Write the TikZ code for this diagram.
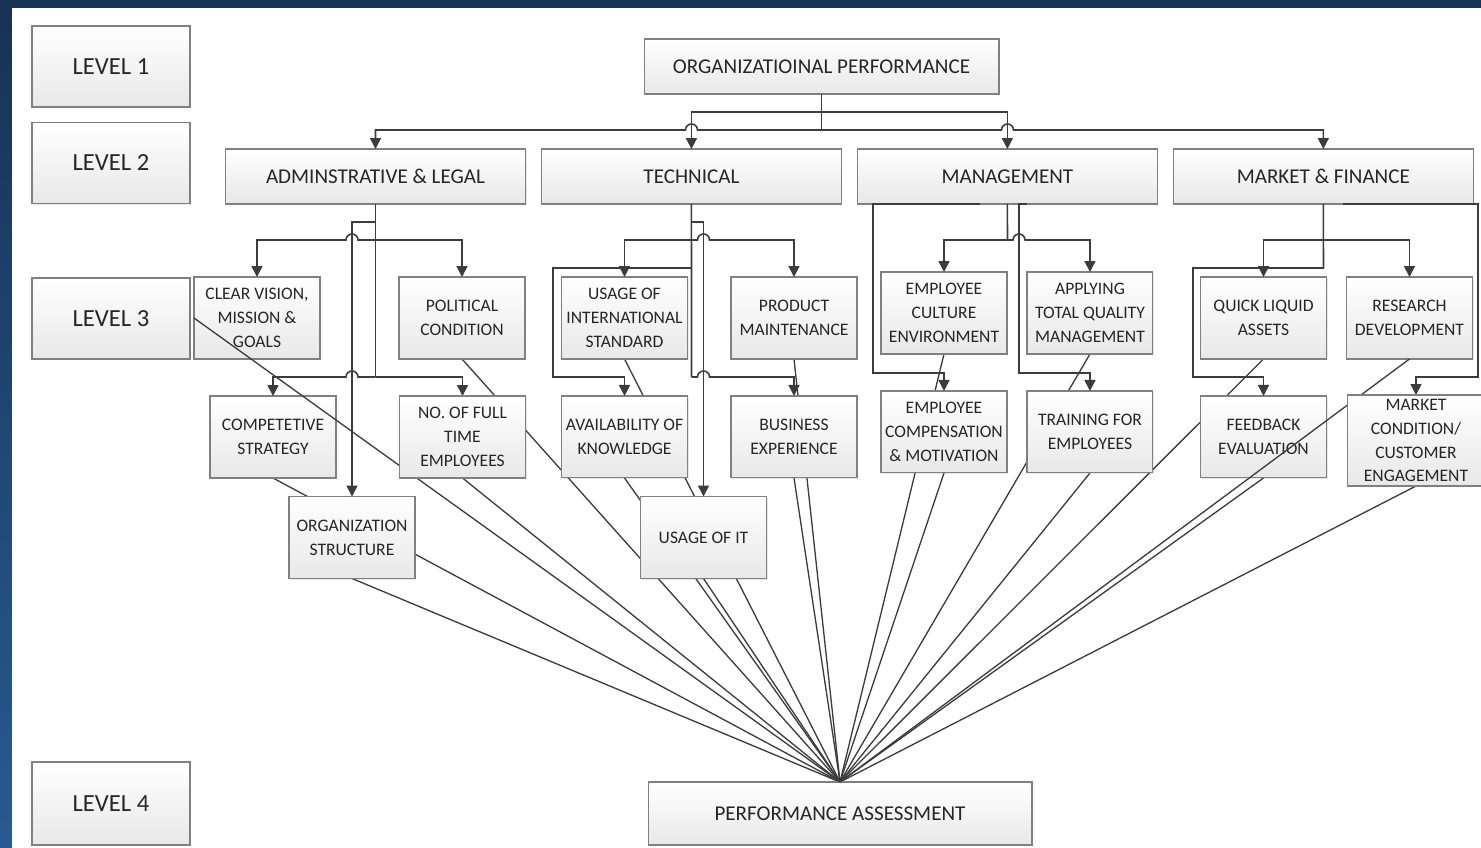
\documentclass[tikz,border=0pt]{standalone}
\usepackage{fontspec}
\setmainfont{Carlito}
\usetikzlibrary{arrows.meta,positioning,backgrounds,shadows}

\pgfdeclarelayer{bg}
\pgfdeclarelayer{back}
\pgfdeclarelayer{mid}
\pgfdeclarelayer{top}
\pgfsetlayers{bg,back,main,mid,top}

\definecolor{navy}{RGB}{24,50,86}
\definecolor{deepblue}{RGB}{40,90,145}
\definecolor{wire}{RGB}{60,60,60}
\definecolor{frame}{RGB}{128,128,128}

\tikzset{
  box/.style={draw=frame, line width=0.6pt, top color=white, bottom color=black!9,
    align=center, inner sep=1pt, outer sep=0pt, text=black!85,
    font=\fontsize{10}{13.6}\selectfont,
    minimum width=2.52cm, minimum height=1.64cm,
    drop shadow={opacity=0.18, shadow xshift=0.6pt, shadow yshift=-0.6pt}},
  catbox/.style={box, minimum width=6cm, minimum height=1.1cm, font=\fontsize{12}{14}\selectfont},
  lvlbox/.style={box, minimum width=3.16cm, minimum height=1.62cm, font=\fontsize{14}{16}\selectfont},
  conn/.style={draw=wire, line width=0.9pt},
  arr/.style={conn, -{Triangle[length=0.22cm,width=0.22cm]}},
  fan/.style={draw=wire, line width=0.75pt}
}

\begin{document}
\begin{tikzpicture}[x=0.02cm, y=-0.02cm]
  \useasboundingbox (0,0) rectangle (1481,848);
  \begin{pgfonlayer}{bg}
    \fill[top color=navy, bottom color=deepblue] (0,0) rectangle (1481,848);
    \fill[white] (12,8) rectangle (1481,848);
  \end{pgfonlayer}

  % levels
  \node (lv1) [lvlbox] at (111,66.5) {LEVEL 1};
  \node (lv2) [lvlbox] at (111,163) {LEVEL 2};
  \node (lv3) [lvlbox] at (111,318.5) {LEVEL 3};
  \node (lv4) [lvlbox, minimum height=1.66cm] at (111,803.5) {LEVEL 4};

  \node (org) [catbox, minimum width=7.1cm] at (821.5,66.5) {ORGANIZATIOINAL PERFORMANCE};
  \node (adm) [catbox] at (375.5,176.5) {ADMINSTRATIVE \& LEGAL};
  \node (tec) [catbox, right=0.32cm of adm] {TECHNICAL};
  \node (man) [catbox, right=0.32cm of tec] {MANAGEMENT};
  \node (mkt) [catbox, right=0.32cm of man] {MARKET \& FINANCE};

  \node (vis) [box] at (257,318) {CLEAR VISION,\\MISSION \&\\GOALS};
  \node (pol) [box] at (462,318) {POLITICAL\\CONDITION};
  \node (cmp) [box] at (273,437) {COMPETETIVE\\STRATEGY};
  \node (ost) [box] at (352,537.5) {ORGANIZATION\\STRUCTURE};
  \node (ist) [box] at (624.5,318) {USAGE OF\\INTERNATIONAL\\STANDARD};
  \node (prm) [box] at (794,318) {PRODUCT\\MAINTENANCE};
  \node (kno) [box, below=0.74cm of ist] {AVAILABILITY OF\\KNOWLEDGE};
  \node (bus) [box, below=0.74cm of prm] {BUSINESS\\EXPERIENCE};
  \node (uit) [box] at (703.5,537.5) {USAGE OF IT};
  \node (cul) [box] at (944,313) {EMPLOYEE\\CULTURE\\ENVIRONMENT};
  \node (tqm) [box, right=0.4cm of cul] {APPLYING\\TOTAL QUALITY\\MANAGEMENT};
  \node (cmo) [box, below=0.74cm of cul] {EMPLOYEE\\COMPENSATION\\\& MOTIVATION};
  \node (tra) [box, below=0.74cm of tqm] {TRAINING FOR\\EMPLOYEES};
  \node (liq) [box] at (1263.5,318) {QUICK LIQUID\\ASSETS};
  \node (rnd) [box, right=0.4cm of liq] {RESEARCH\\DEVELOPMENT};
  \node (fbk) [box, below=0.74cm of liq] {FEEDBACK\\EVALUATION};
  \begin{pgfonlayer}{top}
    \node (ful) [box] at (462.5,437) {NO. OF FULL\\TIME\\EMPLOYEES};
    \node (mco) [box, minimum width=2.76cm, minimum height=1.82cm] at (1416,440.5)
      {MARKET\\CONDITION/\\CUSTOMER\\ENGAGEMENT};
  \end{pgfonlayer}

  \node (pas) [catbox, minimum width=7.68cm, minimum height=1.26cm] at (840,813.5) {PERFORMANCE ASSESSMENT};

  % level 1 -> level 2
  \draw[conn] (org.south) -- (821.5,130);
  \draw[arr] (821.5,130) -- (697.5,130) arc(0:180:0.12cm) -| (adm.north);
  \draw[arr] (821.5,130) -- (1001.5,130) arc(180:0:0.12cm) -| (mkt.north);
  \draw[arr] (821.5,112) -| (tec.north);
  \draw[arr] (821.5,112) -| (man.north);

  % administrative
  \draw[conn] (adm.south) -- (375.5,377);
  \draw[arr] (375.5,240) -| (pol.north);
  \draw[arr] (375.5,240) -- (358,240) arc(0:180:0.12cm) -| (vis.north);
  \draw[arr] (375.5,222) -| (ost.north);
  \draw[arr] (375.5,377) -| (ful.north);
  \draw[arr] (375.5,377) -- (358,377) arc(0:180:0.12cm) -| (cmp.north);

  % technical
  \draw[conn] (tec.south) -- (691.5,377);
  \draw[arr] (691.5,240) -| (ist.north);
  \draw[arr] (691.5,240) -- (697.5,240) arc(180:0:0.12cm) -| (prm.north);
  \draw[arr] (691.5,222) -| (uit.north);
  \draw[arr] (691.5,268) -| (553,377) -| (kno.north);
  \draw[arr] (691.5,377) -- (697.5,377) arc(180:0:0.12cm) -| (bus.north);

  % management
  \draw[conn] (man.south) -- (1007.5,240);
  \draw[arr] (1007.5,240) -| (cul.north);
  \draw[arr] (1007.5,240) -- (1013,240) arc(180:0:0.12cm) -| (tqm.north);
  \draw[arr] ([xshift=-0.54cm]man.south) -| (873,373) -| (cmo.north);
  \draw[arr] ([xshift=0.4cm]man.south) -| (1019,373) -| (tra.north);

  % market
  \draw[conn] (mkt.south) -- (1323.5,268);
  \draw[arr] (1323.5,240) -| (liq.north);
  \draw[arr] (1323.5,240) -| (rnd.north);
  \draw[arr] (1323.5,268) -| (1193,377) -| (fbk.north);
  \draw[arr] ([xshift=0.4cm]mkt.south) -| (1478,377) -| (mco.north);

  % level 3 -> level 4
  \begin{pgfonlayer}{back}
    \foreach \s in {cmp,ost,ful,pol,ist,kno,uit,prm,bus,cul,cmo,tqm,tra,liq,fbk,mco}
      \draw[fan] (\s.south) -- (pas.north);
  \end{pgfonlayer}
  \begin{pgfonlayer}{mid}
    \draw[fan] (vis.west) -- (pas.north);
    \draw[fan] (rnd.south) -- (pas.north);
  \end{pgfonlayer}
\end{tikzpicture}
\end{document}
